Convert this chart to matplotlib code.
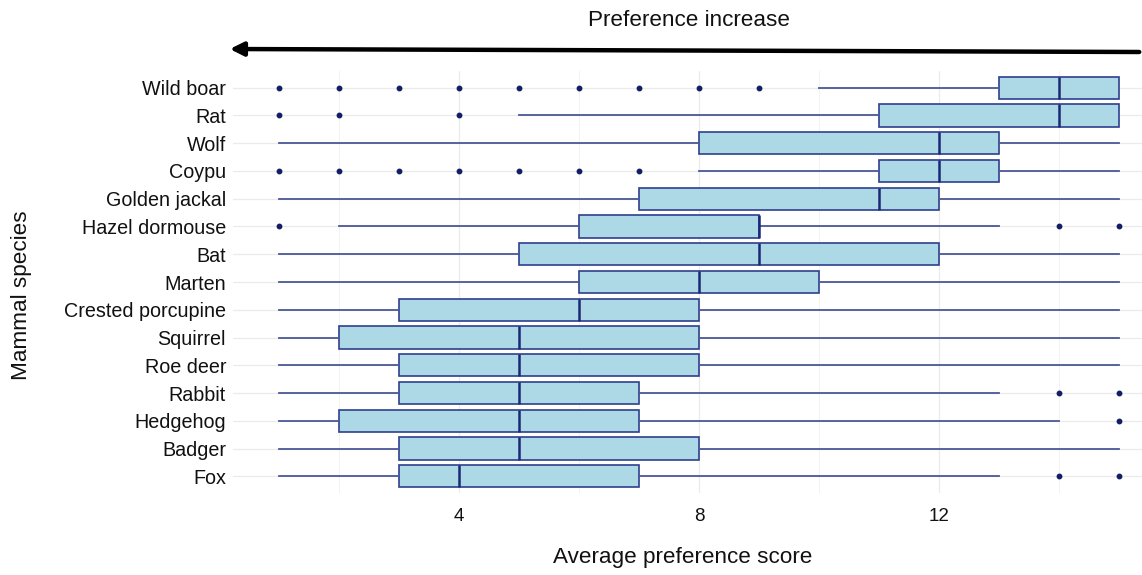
import numpy as np
import matplotlib.pyplot as plt
from matplotlib.patches import FancyArrowPatch

plt.rcParams['font.family'] = ['Liberation Sans', 'DejaVu Sans']

# species listed bottom to top
species = ['Fox', 'Badger', 'Hedgehog', 'Rabbit', 'Roe deer', 'Squirrel',
           'Crested porcupine', 'Marten', 'Bat', 'Hazel dormouse',
           'Golden jackal', 'Coypu', 'Wolf', 'Rat', 'Wild boar']
whislo = [1, 1, 1, 1, 1, 1, 1, 1, 1, 2, 1, 8, 1, 5, 10]
q1 = [3, 3, 2, 3, 3, 2, 3, 6, 5, 6, 7, 11, 8, 11, 13]
med = [4, 5, 5, 5, 5, 5, 6, 8, 9, 9, 11, 12, 12, 14, 14]
q3 = [7, 8, 7, 7, 8, 8, 8, 10, 12, 9, 12, 13, 13, 15, 15]
whishi = [13, 15, 14, 13, 15, 15, 15, 15, 15, 13, 15, 15, 15, 15, 15]
fliers = [[14, 15], [], [15], [14, 15], [], [], [], [], [], [1, 14, 15],
          [], [1, 2, 3, 4, 5, 6, 7], [], [1, 2, 4],
          [1, 2, 3, 4, 5, 6, 7, 8, 9]]

stats = []
for i, name in enumerate(species):
    stats.append(dict(label=name, whislo=whislo[i], q1=q1[i], med=med[i],
                      q3=q3[i], whishi=whishi[i], fliers=fliers[i]))

fig = plt.figure(figsize=(11.42, 5.75), dpi=100)
ax = fig.add_axes([233 / 1142, 82 / 575, 909 / 1142, 422 / 575])

pos = np.arange(1, len(species) + 1)
ax.bxp(stats, positions=pos, vert=False, widths=0.8, patch_artist=True,
       showcaps=False,
       boxprops=dict(facecolor='#ADD8E6', edgecolor='#2F3F8F', linewidth=1.2),
       medianprops=dict(color='#1B2878', linewidth=1.8),
       whiskerprops=dict(color='#4A5895', linewidth=1.3),
       flierprops=dict(marker='o', markersize=3.2, markerfacecolor='#141E66',
                       markeredgecolor='#141E66'))

ax.set_xlim(0.23, 15.38)
ax.set_ylim(0.4, len(species) + 0.6)
ax.set_xticks([4, 8, 12])
ax.set_xticks([2, 6, 10, 14], minor=True)
ax.set_yticks(pos)
ax.set_yticklabels(species)
ax.tick_params(axis='both', which='both', length=0, labelsize=13.5,
               colors='#111111')
ax.tick_params(axis='y', pad=5, labelsize=14.2)
ax.tick_params(axis='x', pad=11)
ax.grid(True, which='major', color='#EBEBEB', linewidth=0.9)
ax.grid(True, which='minor', axis='x', color='#F2F2F2', linewidth=0.7)
ax.set_axisbelow(True)
for s in ax.spines.values():
    s.set_visible(False)

ax.set_xlabel('Average preference score', fontsize=16.2, color='#111111')
ax.set_ylabel('Mammal species', fontsize=16.2, color='#111111')
ax.xaxis.set_label_coords((683 - 233) / 909, -(558 - 493) / 422)
ax.yaxis.set_label_coords(-(233 - 22) / 909, (493 - 295) / 422)
ax.xaxis.label.set_va('center')
ax.yaxis.label.set_va('center')

# direction arrow along the top
fig.patches.append(FancyArrowPatch(
    (1.0, 1 - 52 / 575), (227 / 1142, 1 - 49 / 575),
    transform=fig.transFigure, arrowstyle='-|>', mutation_scale=20,
    color='black', linewidth=3.2))
fig.text(689 / 1142, 1 - 20 / 575, 'Preference increase', ha='center',
         va='center', fontsize=16.2, color='#111111')

fig.savefig('out.png', dpi=100)
